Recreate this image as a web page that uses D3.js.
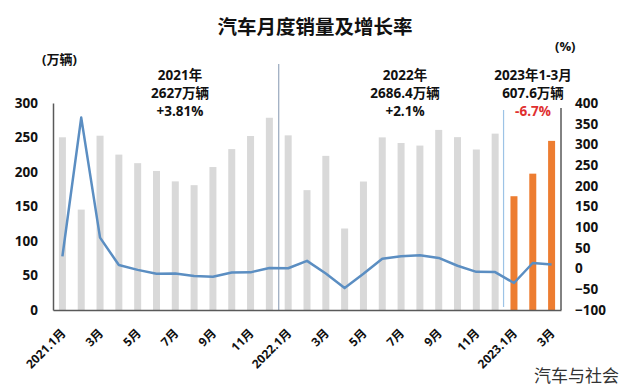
<!DOCTYPE html>
<html>
<head>
<meta charset="utf-8">
<script src="https://cdn.jsdelivr.net/npm/d3@7"></script>
<style>
  body { margin: 0; background: #fff; }
  svg text { font-family: "Open Sans", "Noto Sans CJK SC", sans-serif; }
</style>
</head>
<body>
<svg width="630" height="389"></svg>
<script>
// months shown on the x axis
const months = [
  "2021.1月", "2月", "3月", "4月", "5月", "6月", "7月", "8月", "9月", "10月", "11月", "12月",
  "2022.1月", "2月", "3月", "4月", "5月", "6月", "7月", "8月", "9月", "10月", "11月", "12月",
  "2023.1月", "2月", "3月"
];

// monthly sales (万辆)
const sales = [
  250.3, 145.5, 252.6, 225.2, 212.8, 201.5, 186.4, 180.9, 207.2, 233.2, 252.2, 278.6,
  253.1, 173.7, 223.4, 118.1, 186.2, 250.2, 242.0, 238.3, 261.0, 250.5, 232.6, 255.6,
  164.9, 197.6, 245.1
];

// year-on-year growth (%)
const growth = [
  29.5, 364.8, 74.9, 8.6, -3.1, -12.4, -11.9, -18.1, -19.6, -9.4, -9.1, 1.6,
  0.9, 18.7, -11.7, -47.1, -12.6, 23.8, 29.7, 32.1, 25.7, 6.9, -7.9, -8.4,
  -34.8, 13.5, 9.7
];

const leftTicks = [0, 50, 100, 150, 200, 250, 300];
const rightTicks = [-100, -50, 0, 50, 100, 150, 200, 250, 300, 350, 400];

const notes = [
  ["2021年", "2627万辆", "+3.81%"],
  ["2022年", "2686.4万辆", "+2.1%"],
  ["2023年1-3月", "607.6万辆", "-6.7%"]
];

const svg = d3.select("svg");
const margin = { top: 103, right: 69, bottom: 79, left: 53 };
const width = 630 - margin.left - margin.right;
const height = 389 - margin.top - margin.bottom;

const g = svg.append("g").attr("transform", `translate(${margin.left},${margin.top})`);

const x = d3.scaleBand().domain(d3.range(months.length)).range([0, width]);
const yL = d3.scaleLinear().domain([0, 300]).range([height, 0]);
const yR = d3.scaleLinear().domain([-100, 400]).range([height, 0]);

// title
svg.append("text")
  .attr("x", 315).attr("y", 34)
  .attr("text-anchor", "middle")
  .attr("font-size", 19.5).attr("font-weight", "bold").attr("fill", "#111")
  .attr("font-family", "'Noto Sans CJK SC', sans-serif")
  .text("汽车月度销量及增长率");

// bars
const barW = 7;
g.selectAll("rect.bar")
  .data(sales)
  .join("rect")
  .attr("class", "bar")
  .attr("x", (d, i) => x(i) + x.bandwidth() / 2 - barW / 2)
  .attr("width", barW)
  .attr("y", d => yL(d))
  .attr("height", d => height - yL(d))
  .attr("fill", (d, i) => i >= 24 ? "#ed7d31" : "#d9d9d9");

// year separators
const sep1 = x(12);
g.append("line")
  .attr("x1", sep1).attr("x2", sep1)
  .attr("y1", -39).attr("y2", height)
  .attr("stroke", "#8497b0").attr("stroke-width", 1);
const sep2 = x(24) - 1;
g.append("line")
  .attr("x1", sep2).attr("x2", sep2)
  .attr("y1", 7).attr("y2", height - 3)
  .attr("stroke", "#9dc3e6").attr("stroke-width", 1.2);

// growth line
const line = d3.line()
  .x((d, i) => x(i) + x.bandwidth() / 2)
  .y(d => yR(d));
g.append("path")
  .datum(growth)
  .attr("d", line)
  .attr("fill", "none")
  .attr("stroke", "#5b8ec2")
  .attr("stroke-width", 2.5)
  .attr("stroke-linejoin", "round");

// axes
const axisColor = "#595959";
const leftAxis = g.append("g")
  .call(d3.axisLeft(yL).tickValues(leftTicks).tickSize(0).tickPadding(15));
const rightAxis = g.append("g")
  .attr("transform", `translate(${width},0)`)
  .call(d3.axisRight(yR).tickValues(rightTicks).tickSize(0).tickPadding(14));
[leftAxis, rightAxis].forEach(a => {
  a.select(".domain").attr("stroke", axisColor).attr("stroke-width", 1.5);
  a.selectAll("text")
    .attr("font-size", 13.5).attr("font-weight", "bold").attr("fill", "#111")
    .attr("font-family", "'Open Sans', sans-serif");
});
rightAxis.select(".domain").attr("d", `M0,5V${height}`);

const bottomAxis = g.append("g")
  .attr("transform", `translate(0,${height})`)
  .call(d3.axisBottom(x)
    .tickValues(d3.range(0, months.length, 2))
    .tickFormat(i => months[i])
    .tickSize(0).tickPadding(0));
bottomAxis.select(".domain").attr("stroke", axisColor).attr("stroke-width", 1.5);
bottomAxis.selectAll("text")
  .attr("font-size", 12).attr("font-weight", "bold").attr("fill", "#111")
  .attr("text-anchor", "end")
  .attr("dy", null).attr("y", 0)
  .attr("transform", "translate(4,24) rotate(-45)");

// unit labels
svg.append("text")
  .attr("x", 42).attr("y", 64)
  .attr("font-size", 13).attr("font-weight", "bold").attr("fill", "#111")
  .text("(万辆)");
svg.append("text")
  .attr("x", 555).attr("y", 51)
  .attr("font-size", 13).attr("font-weight", "bold").attr("fill", "#111")
  .text("(%)");

// yearly annotations
const noteX = [180, 405, 533];
notes.forEach((lines, k) => {
  lines.forEach((t, j) => {
    svg.append("text")
      .attr("x", noteX[k])
      .attr("y", 80 + j * 18)
      .attr("text-anchor", "middle")
      .attr("font-size", 13.5).attr("font-weight", "bold")
      .attr("fill", k === 2 && j === 2 ? "#e03030" : "#111")
      .text(t);
  });
});

// source
svg.append("text")
  .attr("x", 619).attr("y", 382)
  .attr("text-anchor", "end")
  .attr("font-size", 17).attr("fill", "#333")
  .attr("font-family", "'Noto Sans CJK SC', sans-serif")
  .text("汽车与社会");
</script>
</body>
</html>
